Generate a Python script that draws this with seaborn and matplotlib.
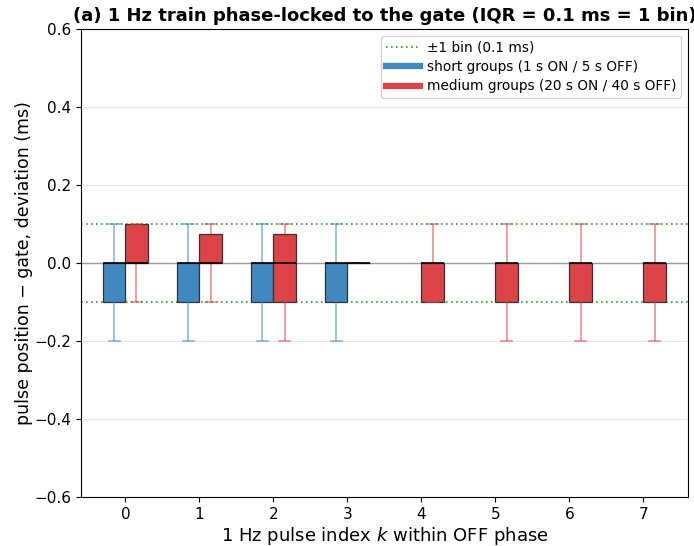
import numpy as np
import pandas as pd
import matplotlib
matplotlib.use("Agg")
import matplotlib.pyplot as plt
import seaborn as sns
from matplotlib.lines import Line2D
from matplotlib.colors import to_rgba

# ---- data (five-number summaries, in ms) ----
short_k      = [0, 1, 2, 3]
short_whislo = [-0.2, -0.2, -0.2, -0.2]
short_q1     = [-0.1, -0.1, -0.1, -0.1]
short_med    = [0.0, 0.0, 0.0, 0.0]
short_q3     = [0.0, 0.0, 0.0, 0.0]
short_whishi = [0.1, 0.1, 0.1, 0.1]

medium_k      = [0, 1, 2, 3, 4, 5, 6, 7]
medium_whislo = [-0.1, -0.1, -0.2, 0.0, -0.1, -0.2, -0.2, -0.2]
medium_q1     = [0.0, 0.0, -0.1, 0.0, -0.1, -0.1, -0.1, -0.1]
medium_med    = [0.0, 0.0, 0.0, 0.0, 0.0, 0.0, 0.0, 0.0]
medium_q3     = [0.1, 0.075, 0.075, 0.0, 0.0, 0.0, 0.0, 0.0]
medium_whishi = [0.1, 0.1, 0.1, 0.0, 0.1, 0.1, 0.1, 0.1]

short_label = "short groups (1 s ON / 5 s OFF)"
medium_label = "medium groups (20 s ON / 40 s OFF)"
bin_label = "\u00b11 bin (0.1 ms)"
k_labels = [str(k) for k in range(8)]

blue = "#3f88c0"
red = "#dc4448"

rows = []
for lab, ks, lo, q1, md, q3, hi in [
    (short_label, short_k, short_whislo, short_q1, short_med, short_q3, short_whishi),
    (medium_label, medium_k, medium_whislo, medium_q1, medium_med, medium_q3, medium_whishi),
]:
    for i, k in enumerate(ks):
        for v in (lo[i], q1[i], md[i], q3[i], hi[i]):
            rows.append({"k": str(k), "group": lab, "dev": v})
df = pd.DataFrame(rows)

fig = plt.figure(figsize=(6.94, 5.46), dpi=100)
ax = fig.add_axes([0.1167, 0.0897, 0.8745, 0.8573])

ax.grid(axis="y", color="#e6e6e6", lw=0.8, zorder=0)
ax.set_axisbelow(True)
ax.axhline(0, color="#9a9a9a", lw=1.0, zorder=1)
ax.axhline(0.1, color="#2ca02c", lw=1.2, ls=(0, (1, 2)), zorder=1)
ax.axhline(-0.1, color="#2ca02c", lw=1.2, ls=(0, (1, 2)), zorder=1)

sns.boxplot(data=df, x="k", y="dev", hue="group", order=k_labels,
            hue_order=[short_label, medium_label],
            palette=[blue, red], whis=(0, 100), width=0.6, gap=0,
            dodge=True, saturation=1, linecolor="#333333", linewidth=0.9,
            showfliers=False, legend=False, ax=ax)

for cont, col in zip(ax.containers, [blue, red]):
    try:
        for ln in list(cont.whiskers) + list(cont.caps):
            ln.set_color(to_rgba(col, 0.6))
            ln.set_linewidth(1.2)
        for ln in cont.medians:
            ln.set_color("black")
            ln.set_linewidth(1.2)
    except AttributeError:
        pass

ax.set_ylim(-0.6, 0.6)
ax.set_xlim(-0.6, 7.6)
yt = np.round(np.arange(-0.6, 0.61, 0.2), 1)
ax.set_yticks(yt)
ax.set_yticklabels([f"{v:.1f}".replace("-", "\u2212") for v in yt])
ax.tick_params(labelsize=11)
ax.set_xlabel("1 Hz pulse index $k$ within OFF phase", fontsize=13, labelpad=2)
ax.set_ylabel("pulse position \u2212 gate, deviation (ms)", fontsize=12.5, labelpad=1)
ax.set_title("(a) 1 Hz train phase-locked to the gate (IQR = 0.1 ms = 1 bin)",
             fontsize=13, fontweight="bold")

handles = [
    Line2D([], [], color="#2ca02c", lw=1.2, ls=(0, (1, 2))),
    Line2D([], [], color=blue, lw=4.5),
    Line2D([], [], color=red, lw=4.5),
]
ax.legend(handles, [bin_label, short_label, medium_label], loc="upper right",
          fontsize=9.8, handlelength=2.5, handletextpad=0.5, labelspacing=0.4,
          borderpad=0.35)

fig.savefig("out.png", dpi=100)
